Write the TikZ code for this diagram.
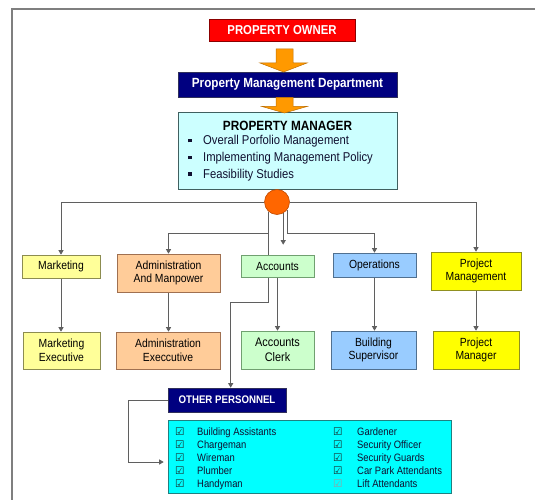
\documentclass[tikz,border=0pt]{standalone}
\usepackage{fontspec}
\setmainfont[FakeStretch=0.88]{Liberation Sans}
\newfontfamily\dejavu{DejaVu Sans}
\usetikzlibrary{arrows.meta,backgrounds,calc}
\definecolor{ownred}{HTML}{FF0000}
\definecolor{ownbord}{HTML}{8B0000}
\definecolor{navy}{HTML}{000080}
\definecolor{navybord}{HTML}{30305A}
\definecolor{pmcyan}{HTML}{CCFFFF}
\definecolor{pmbord}{HTML}{406060}
\definecolor{hubor}{HTML}{FF6600}
\definecolor{hubbord}{HTML}{C04A00}
\definecolor{arrowor}{HTML}{FF9900}
\definecolor{arrowbord}{HTML}{C07000}
\definecolor{mkfill}{HTML}{FFFF99}
\definecolor{mkbord}{HTML}{8C8C50}
\definecolor{adfill}{HTML}{FFCC99}
\definecolor{adbord}{HTML}{A07050}
\definecolor{acfill}{HTML}{CCFFCC}
\definecolor{acbord}{HTML}{70A070}
\definecolor{opfill}{HTML}{99CCFF}
\definecolor{opbord}{HTML}{507090}
\definecolor{prfill}{HTML}{FFFF00}
\definecolor{prbord}{HTML}{909020}
\definecolor{lstfill}{HTML}{00FFFF}
\definecolor{lstbord}{HTML}{208080}
\definecolor{conc}{HTML}{5F5F5F}
\definecolor{txtc}{HTML}{101030}
\definecolor{chkc}{HTML}{1A2A2A}
\newcommand\chkbox[2]{\makebox[#1][l]{\raisebox{-0.3pt}{\dejavu\fontsize{10.5}{10}\selectfont\textcolor{#2}{☑}}}}
\begin{document}
\begin{tikzpicture}[x=1pt,y=-1pt,
  box/.style={draw, line width=0.6pt, inner sep=1pt, align=center,
    font=\fontsize{11.8}{13.8}\selectfont},
  con/.style={draw=conc, line width=0.8pt, -{Triangle[width=5pt,length=4.5pt]}},
  oarr/.style={fill=arrowor, draw=arrowbord, line width=0.5pt},
  bul/.style={anchor=base west, inner sep=0, text=txtc, font=\fontsize{12.8}{14}\selectfont},
  itm/.style={anchor=base west, inner sep=0, text=txtc, font=\fontsize{10.7}{12}\selectfont}]
\useasboundingbox (0,0) rectangle (535,500);
% frame
\draw[draw=conc!80, line width=1.2pt] (12,500) -- (12,9) -- (535,9);

% top
\node[fill=ownred, draw=ownbord, line width=0.6pt, minimum width=146pt, minimum height=22pt,
  text=white, font=\bfseries\fontsize{12.9}{14}\selectfont] (own) at (282,30) {PROPERTY OWNER};
\node[fill=navy, draw=navybord, line width=0.6pt, minimum width=219pt, minimum height=25pt,
  text=white, font=\bfseries\fontsize{13.3}{15}\selectfont] (pmd) at (287.5,84.5) {Property Management Department};
\node[fill=pmcyan, draw=pmbord, line width=0.6pt, minimum width=219pt, minimum height=77pt] (pm) at (287.5,150.5) {};
\node[anchor=base, inner sep=0, font=\bfseries\fontsize{13.4}{15}\selectfont] (pmt) at (287.5,130.5) {PROPERTY MANAGER};
\node[bul] (b1) at (188,144.6) {\rule[2.2pt]{3.6pt}{3.6pt}\hspace{11.4pt}Overall Porfolio Management};
\node[bul] (b2) at (188,161.3) {\rule[2.2pt]{3.6pt}{3.6pt}\hspace{11.4pt}Implementing Management Policy};
\node[bul] (b3) at (188,178.0) {\rule[2.2pt]{3.6pt}{3.6pt}\hspace{11.4pt}Feasibility Studies};

% orange arrows
\draw[oarr] (276,49) -- (293,49) -- (293,63) -- (307,63) -- (283.5,72) -- (260,63) -- (276,63) -- cycle;
\draw[oarr] (276,97.5) -- (293,97.5) -- (293,106.5) -- (307,106.5) -- (284.5,113) -- (262,106.5) -- (276,106.5) -- cycle;

% hub
\node[circle, fill=hubor, draw=hubbord, line width=0.6pt, minimum size=25pt, inner sep=0] (hub) at (277,202) {};

% row 1
\node[box, fill=mkfill, draw=mkbord, minimum width=78pt, minimum height=23pt] (mkt) at (61,266.5) {Marketing};
\node[box, fill=adfill, draw=adbord, minimum width=103pt, minimum height=38pt] (adm) at (168.5,273) {Administration\\And Manpower};
\node[box, fill=acfill, draw=acbord, minimum width=73pt, minimum height=22pt] (acc) at (277.5,266) {Accounts};
\node[box, fill=opfill, draw=opbord, minimum width=83pt, minimum height=24pt] (ops) at (374.5,265) {Operations};
\node[box, fill=prfill, draw=prbord, minimum width=90pt, minimum height=38pt] (prj) at (476,271) {Project\\Management};

% row 2
\node[box, fill=mkfill, draw=mkbord, minimum width=77pt, minimum height=37pt] (mke) at (61.5,350.5) {Marketing\\Executive};
\node[box, fill=adfill, draw=adbord, minimum width=104pt, minimum height=37pt] (ade) at (168,350.5) {Administration\\Execcutive};
\node[box, fill=acfill, draw=acbord, minimum width=73pt, minimum height=38pt,
  font=\fontsize{12.4}{15}\selectfont] (acl) at (277.5,350) {Accounts\\Clerk};
\node[box, fill=opfill, draw=opbord, minimum width=85pt, minimum height=38pt] (bsu) at (373.5,350) {Building\\Supervisor};
\node[box, fill=prfill, draw=prbord, minimum width=86pt, minimum height=38pt] (pmg) at (476,350) {Project\\Manager};

% other personnel
\node[fill=navy, draw=navybord, line width=0.6pt, minimum width=118pt, minimum height=24pt,
  text=white, font=\bfseries\fontsize{11}{13}\selectfont] (oth) at (227,400) {OTHER PERSONNEL};
\node[fill=lstfill, draw=lstbord, line width=0.6pt, minimum width=283pt, minimum height=73pt] (lst) at (309.5,456.5) {};

\foreach \t [count=\i] in {Building Assistants, Chargeman, Wireman, Plumber, Handyman}
  \node[itm] (la\i) at (175,{422.6+12.9*\i}) {\chkbox{22pt}{chkc}\t};
\foreach \t [count=\i] in {Gardener, Security Officer, Security Guards, Car Park Attendants}
  \node[itm] (lb\i) at (333,{422.6+12.9*\i}) {\chkbox{24pt}{chkc}\t};
\node[itm] (lb5) at (333,487.1) {\chkbox{24pt}{chkc!45}Lift Attendants};

% connectors
\coordinate (ybar) at (0,233);
\coordinate (ylow) at (0,302);
\coordinate (xret) at (128,0);
\begin{scope}[on background layer]
  \draw[con] (hub.west) -| (mkt.north);
  \draw[con] (hub.east) -| (prj.north);
  \draw[con] (hub.230) -- (hub.230 |- ybar) -| (adm.north);
  \draw[con] (hub.230) -- (hub.230 |- ylow) -| ([xshift=63pt]oth.north west);
  \draw[con, shorten >=10pt] (hub.299) -- (hub.299 |- acc.north);
  \draw[con] (hub.323) -- (hub.323 |- ybar) -| (ops.north);
  \draw[con] (mkt.south) -- (mkt.south |- mke.north);
  \draw[con] (adm.south) -- (adm.south |- ade.north);
  \draw[con] (acc.south) -- (acc.south |- acl.north);
  \draw[con] (ops.south) -- (ops.south |- bsu.north);
  \draw[con] (prj.south) -- (prj.south |- pmg.north);
  \draw[con, shorten >=4pt] (oth.west) -- (oth.west -| xret) |- ([yshift=-5.5pt]lst.west);
\end{scope}
\end{tikzpicture}
\end{document}
